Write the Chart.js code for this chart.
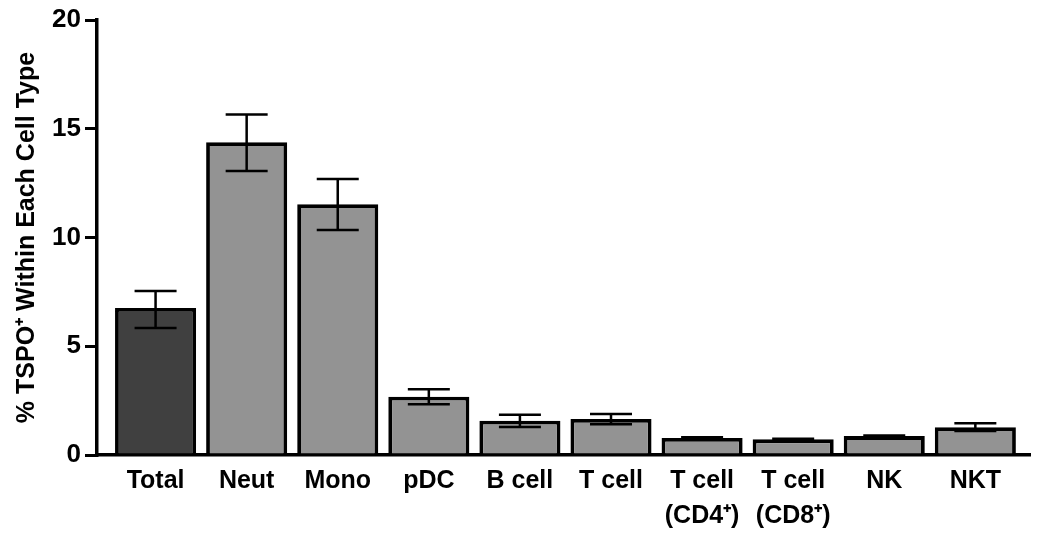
<!DOCTYPE html>
<html><head><meta charset="utf-8">
<script src="https://cdn.jsdelivr.net/npm/chart.js@4.4.1/dist/chart.umd.min.js"></script>
<style>html,body{margin:0;padding:0;background:#fff}#wrap{width:1050px;height:540px}</style>
</head><body><div id="wrap"><canvas id="c" width="1050" height="540"></canvas></div>
<script>
const categories = ['Total','Neut','Mono','pDC','B cell','T cell',['T cell','(CD4\u207A)'],['T cell','(CD8\u207A)'],'NK','NKT'];
const means    = [6.76, 14.38, 11.53, 2.68, 1.58, 1.66, 0.78, 0.72, 0.87, 1.28];
const errUpper = [7.54, 15.66, 12.69, 3.02, 1.85, 1.88, 0.82, 0.75, 0.90, 1.46];
const errLower = [5.84, 13.06, 10.34, 2.33, 1.29, 1.41, 0.74, 0.69, 0.84, 1.10];
const yTicks = [0, 5, 10, 15, 20];

const FONT = '"Liberation Sans", Arial, sans-serif';

const errorBars = {
  id: 'errorBars',
  afterDatasetsDraw(chart) {
    const {ctx, scales: {x, y}} = chart;
    ctx.save();
    ctx.strokeStyle = '#000';
    ctx.lineWidth = 2.5;
    const half = 21;
    means.forEach((m, i) => {
      const px = x.getPixelForValue(i);
      const yu = y.getPixelForValue(errUpper[i]);
      const yl = y.getPixelForValue(errLower[i]);
      ctx.beginPath();
      ctx.moveTo(px, yu); ctx.lineTo(px, yl);
      ctx.moveTo(px - half, yu); ctx.lineTo(px + half, yu);
      ctx.moveTo(px - half, yl); ctx.lineTo(px + half, yl);
      ctx.stroke();
    });
    ctx.restore();
  }
};

new Chart(document.getElementById('c'), {
  type: 'bar',
  data: {
    datasets: [{
      data: means.map((v, i) => ({x: i, y: v})),
      backgroundColor: means.map((v, i) => i === 0 ? '#404040' : '#939393'),
      borderColor: '#000',
      borderWidth: 3.8,
      borderSkipped: 'start',
      categoryPercentage: 1,
      barPercentage: 0.89
    }]
  },
  options: {
    responsive: false,
    animation: false,
    events: [],
    layout: {padding: {top: 20, right: 20, left: 0, bottom: 0}},
    plugins: {legend: {display: false}, tooltip: {enabled: false}},
    scales: {
      x: {
        type: 'linear',
        offset: false,
        min: -0.643,
        max: 9.6,
        afterBuildTicks: s => { s.ticks = categories.map((_, i) => ({value: i})); },
        afterFit: s => { s.height = 85; },
        grid: {display: false},
        border: {display: true, color: '#000', width: 3.5},
        ticks: {
          autoSkip: false,
          maxRotation: 0,
          padding: 1,
          color: '#000',
          font: {family: FONT, size: 25, weight: 'bold', lineHeight: 1.4},
          callback: v => categories[v]
        }
      },
      y: {
        min: 0,
        max: 20,
        afterBuildTicks: s => { s.ticks = yTicks.map(v => ({value: v})); },
        afterFit: s => { s.width = 97; },
        grid: {drawOnChartArea: false, drawTicks: true, tickLength: 12, color: '#000', lineWidth: 3},
        border: {display: true, color: '#000', width: 3.5},
        ticks: {
          padding: 4,
          color: '#000',
          font: {family: FONT, size: 26, weight: 'bold'}
        },
        title: {
          display: true,
          text: '% TSPO\u207A Within Each Cell Type',
          color: '#000',
          font: {family: FONT, size: 25, weight: 'bold'},
          padding: {top: 12, bottom: 4}
        }
      }
    }
  },
  plugins: [errorBars]
});
</script>
</body></html>
